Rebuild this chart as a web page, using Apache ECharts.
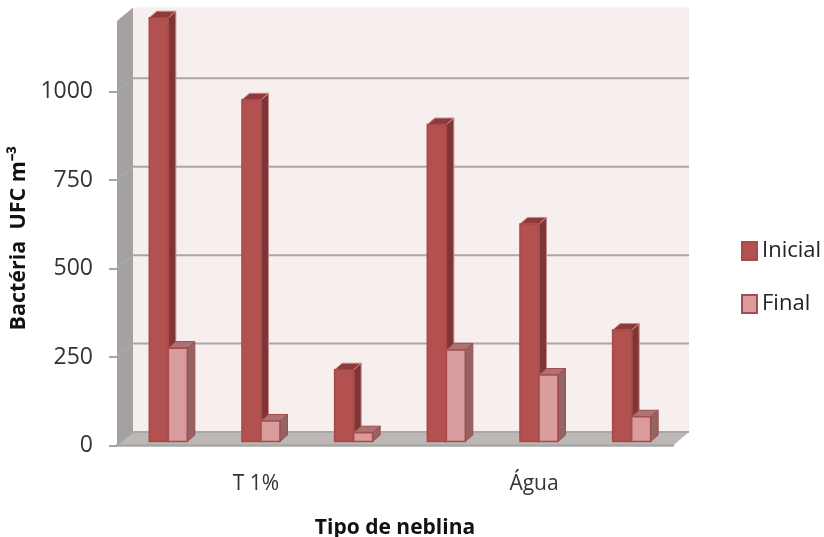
<!DOCTYPE html>
<html><head><meta charset="utf-8">
<style>html,body{margin:0;padding:0;background:#fff}#c{width:824px;height:537px}</style>
<script src="https://cdn.jsdelivr.net/npm/echarts@6/dist/echarts.min.js"></script>
</head><body><div id="c"></div>
<script>
const categories = ['', 'T 1%', '', '', 'Água', ''];
const inicial = [1198, 966, 203, 896, 615, 315];
const final = [264, 58, 25, 259, 188, 70];
const tickValues = [0, 250, 500, 750, 1000];
const seriesNames = ['Inicial', 'Final'];
const yTitle = 'Bactéria  UFC m⁻³';
const xTitle = 'Tipo de neblina';

const DX = 16, DY = -13.5, BX = 7.5, BY = -6.5, BASE = -4, BW = 19, SHIFT = 5;
const FONT = '"Open Sans", sans-serif';

function poly(points, fill, stroke, lw) {
  return { type: 'polygon', shape: { points }, style: { fill, stroke: stroke || null, lineWidth: lw || 0 } };
}
function barItem(side, colors) {
  return function (params, api) {
    const c = api.coord([api.value(0), api.value(1)]);
    const o = api.coord([api.value(0), 0]);
    const x0 = side === 0 ? o[0] + SHIFT - BW : o[0] + SHIFT;
    const x1 = x0 + BW;
    const yb = o[1] + BASE, yt = c[1] + BASE;
    return { type: 'group', children: [
      poly([[x1, yb], [x1 + BX, yb + BY], [x1 + BX, yt + BY], [x1, yt]], colors.side, colors.edge, 1),
      poly([[x0, yt], [x0 + BX, yt + BY], [x1 + BX, yt + BY], [x1, yt]], colors.top, colors.edge, 1),
      poly([[x0, yb], [x1, yb], [x1, yt], [x0, yt]], colors.front, colors.stroke, 1.6)
    ]};
  };
}
const cInicial = { front: '#b35050', stroke: '#a84a4a', side: '#7f3535', top: '#8e3a3a', edge: '#c98a8a' };
const cFinal = { front: '#d99c9c', stroke: '#a54c4d', side: '#946363', top: '#ad7272', edge: '#a54c4d' };

const chart = echarts.init(document.getElementById('c'), null, { renderer: 'canvas' });
chart.setOption({
  animation: false,
  backgroundColor: '#fff',
  grid: { left: 117, right: 151, top: 21, bottom: 91.5, containLabel: false, outerBoundsMode: 'none' },
  legend: {
    data: seriesNames, orient: 'vertical', left: 736, top: 235, itemWidth: 15, itemHeight: 18, itemGap: 31,
    icon: 'rect', textStyle: { fontFamily: FONT, fontSize: 22, color: '#222' }
  },
  xAxis: {
    type: 'category', data: categories, z: 5,
    axisLine: { show: true, lineStyle: { color: '#a6a6a6', width: 2.5 } },
    axisTick: { show: false },
    axisLabel: { interval: 0, margin: 28, fontFamily: FONT, fontSize: 21, color: '#333' },
    name: xTitle, nameLocation: 'middle', nameGap: 72,
    nameTextStyle: { fontFamily: FONT, fontSize: 21, fontWeight: 'bold', color: '#111' }
  },
  yAxis: {
    type: 'value', min: 0, max: 1200, interval: 250, z: 5,
    splitLine: { show: false },
    axisLine: { show: false },
    axisTick: { show: true, length: 8, customValues: tickValues, lineStyle: { color: '#a6a6a6', width: 2 } },
    axisLabel: { margin: 24, customValues: tickValues, formatter: v => String(v), fontFamily: FONT, fontSize: 23, color: '#333' },
    name: yTitle, nameLocation: 'middle', nameGap: 87, nameRotate: 90,
    nameTextStyle: { fontFamily: FONT, fontSize: 21.5, fontWeight: 'bold', color: '#111', padding: [0, 10, 0, 0] }
  },
  series: [
    {
      type: 'custom', name: 'walls', z: 1, silent: true, data: [[0, 0]],
      renderItem(params, api) {
        const g = params.coordSys;
        const l = g.x, r = g.x + g.width, t = g.y, b = g.y + g.height;
        return { type: 'group', children: [
          poly([[l + DX, t + DY], [r + DX, t + DY], [r + DX, b + DY], [l + DX, b + DY]], '#f7eeee'),
          poly([[l, t], [l + DX, t + DY], [l + DX, b + DY], [l, b]], '#a5a1a1'),
          poly([[l, b], [l + DX, b + DY], [r + DX, b + DY], [r, b]], '#bdb8b5')
        ]};
      }
    },
    {
      type: 'custom', name: 'gridlines', z: 1.5, silent: true,
      data: tickValues.map(v => [0, v]),
      renderItem(params, api) {
        const g = params.coordSys;
        const y = api.coord([0, api.value(1)])[1];
        return { type: 'polyline', shape: { points: [[g.x, y], [g.x + DX, y + DY], [g.x + g.width + DX, y + DY]] },
          style: { fill: null, stroke: '#a8a8a8', lineWidth: 2 } };
      }
    },
    {
      type: 'custom', name: seriesNames[0], z: 3,
      itemStyle: { color: cInicial.front, borderColor: cInicial.stroke, borderWidth: 2 },
      data: inicial.map((v, i) => [i, v]), renderItem: barItem(0, cInicial)
    },
    {
      type: 'custom', name: seriesNames[1], z: 4,
      itemStyle: { color: cFinal.front, borderColor: cFinal.stroke, borderWidth: 2 },
      data: final.map((v, i) => [i, v]), renderItem: barItem(1, cFinal)
    }
  ]
});
</script></body></html>
